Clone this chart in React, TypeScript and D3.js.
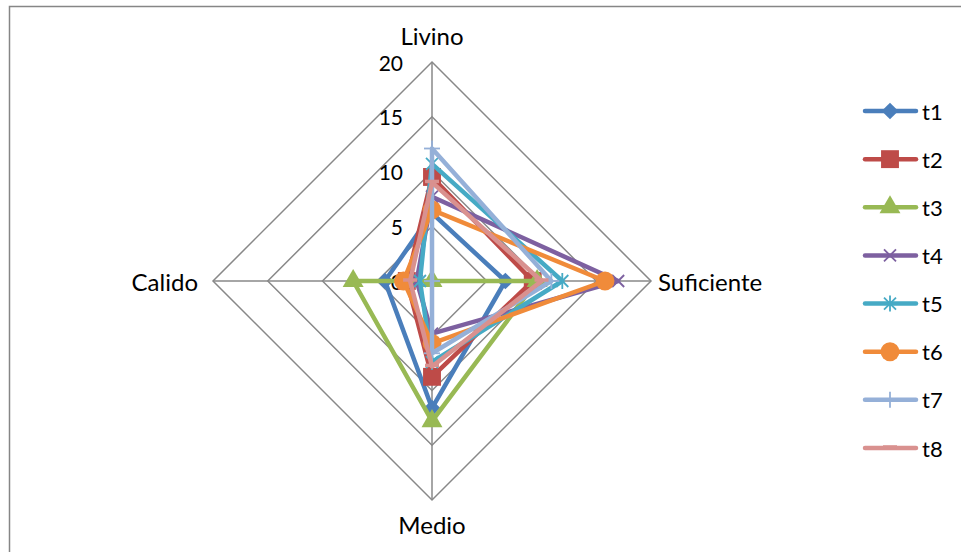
import { useEffect } from 'react';
import * as d3 from 'd3';

const axes = ['Livino', 'Suficiente', 'Medio', 'Calido'];
const ticks = [0, 5, 10, 15, 20];
const seriesNames = ['t1', 't2', 't3', 't4', 't5', 't6', 't7', 't8'];
const t1 = [6.2, 6.7, 11.6, 4.3];
const t2 = [9.5, 9.2, 8.75, 2.3];
const t3 = [0, 9.6, 12.8, 7.2];
const t4 = [7.7, 17.0, 4.8, 1.4];
const t5 = [10.7, 11.9, 7.4, 1.1];
const t6 = [6.5, 15.8, 5.7, 2.6];
const t7 = [12.1, 10.9, 6.6, 0];
const t8 = [9.0, 10.0, 7.8, 2.0];
const seriesValues = [t1, t2, t3, t4, t5, t6, t7, t8];
const colors = ['#4A7EBB', '#BE4B48', '#98B954', '#7D60A0', '#46AAC5', '#F08B3A', '#95B0D8', '#D9918F'];
const markers = ['diamond', 'square', 'triangle', 'x', 'asterisk', 'circle', 'plus', 'dash'];

const W = 961;
const H = 552;
const cx = 432;
const cy = 281;
const R = 219;
const FONT = 'Lato, "Open Sans", sans-serif';

const r = d3.scaleLinear().domain([0, 20]).range([0, R]);
const angle = d3.scaleLinear().domain([0, axes.length]).range([0, 2 * Math.PI]);

function pt(i: number, v: number): [number, number] {
  const a = angle(i);
  return [cx + r(v) * Math.sin(a), cy - r(v) * Math.cos(a)];
}

function Marker({ kind, x, y, color }: { kind: string; x: number; y: number; color: string }) {
  const t = `translate(${x},${y})`;
  if (kind === 'diamond') return <path transform={`${t} rotate(45)`} d={d3.symbol(d3.symbolSquare, 140)() ?? ''} fill={color} />;
  if (kind === 'square') return <path transform={t} d={d3.symbol(d3.symbolSquare, 320)() ?? ''} fill={color} />;
  if (kind === 'triangle') return <path transform={t} d={d3.symbol(d3.symbolTriangle, 190)() ?? ''} fill={color} />;
  if (kind === 'circle') return <path transform={t} d={d3.symbol(d3.symbolCircle, 280)() ?? ''} fill={color} />;
  if (kind === 'x')
    return (
      <g transform={t} stroke={color} strokeWidth={1.8}>
        <line x1={-6} y1={-6} x2={6} y2={6} />
        <line x1={-6} y1={6} x2={6} y2={-6} />
      </g>
    );
  if (kind === 'asterisk')
    return (
      <g transform={t} stroke={color} strokeWidth={1.8}>
        <line x1={-6} y1={-6} x2={6} y2={6} />
        <line x1={-6} y1={6} x2={6} y2={-6} />
        <line x1={0} y1={-8} x2={0} y2={8} />
      </g>
    );
  if (kind === 'plus')
    return (
      <g transform={t} stroke={color} strokeWidth={1.8}>
        <line x1={-8} y1={0} x2={8} y2={0} />
        <line x1={0} y1={-8} x2={0} y2={8} />
      </g>
    );
  return <line transform={t} x1={-7} y1={-1} x2={7} y2={-1} stroke={color} strokeWidth={3.5} />;
}

export default function App() {
  useEffect(() => {
    document.body.style.margin = '0';
  }, []);

  const ring = (v: number) => axes.map((_, i) => pt(i, v).join(',')).join(' ');

  const labelPos = [
    { x: cx, y: 35, anchor: 'middle' },
    { x: 658, y: cy, anchor: 'start' },
    { x: cx, y: 524, anchor: 'middle' },
    { x: 198, y: cy, anchor: 'end' },
  ];

  const legendY = d3.scalePoint<string>().domain(seriesNames).range([111, 448]);

  return (
    <svg width={W} height={H} style={{ display: 'block', background: '#fff', fontFamily: FONT }}>
      <rect x={9.5} y={6.5} width={W} height={H} fill="none" stroke="#868686" strokeWidth={1.5} />
      {ticks.slice(1).map((v) => (
        <polygon key={v} points={ring(v)} fill="none" stroke="#888" strokeWidth={1.5} />
      ))}
      {axes.map((a, i) => {
        const [x, y] = pt(i, 20);
        return <line key={a} x1={cx} y1={cy} x2={x} y2={y} stroke="#888" strokeWidth={1.5} />;
      })}
      {ticks.map((v) => (
        <text key={v} x={403} y={cy - r(v)} textAnchor="end" dominantBaseline="central" fontSize={21} fill="#000">
          {v}
        </text>
      ))}
      {axes.map((a, i) => (
        <text key={a} x={labelPos[i].x} y={labelPos[i].y} textAnchor={labelPos[i].anchor as any} dominantBaseline="central" fontSize={24} fill="#000">
          {a}
        </text>
      ))}
      {seriesValues.map((vals, s) => {
        const pts = vals.map((v, i) => pt(i, v));
        return (
          <g key={seriesNames[s]}>
            <path
              d={d3.line().curve(d3.curveLinearClosed)(pts) ?? ''}
              fill="none"
              stroke={colors[s]}
              strokeWidth={4.5}
              strokeLinejoin="round"
            />
            {pts.map(([x, y], i) => (
              <Marker key={i} kind={markers[s]} x={x} y={y} color={colors[s]} />
            ))}
          </g>
        );
      })}
      {seriesNames.map((n, s) => {
        const y = legendY(n) ?? 0;
        return (
          <g key={n}>
            <line x1={865} x2={916} y1={y} y2={y} stroke={colors[s]} strokeWidth={4.5} strokeLinecap="round" />
            <Marker kind={markers[s]} x={890} y={y} color={colors[s]} />
            <text x={922} y={y} dominantBaseline="central" fontSize={22} fill="#000">
              {n}
            </text>
          </g>
        );
      })}
    </svg>
  );
}
